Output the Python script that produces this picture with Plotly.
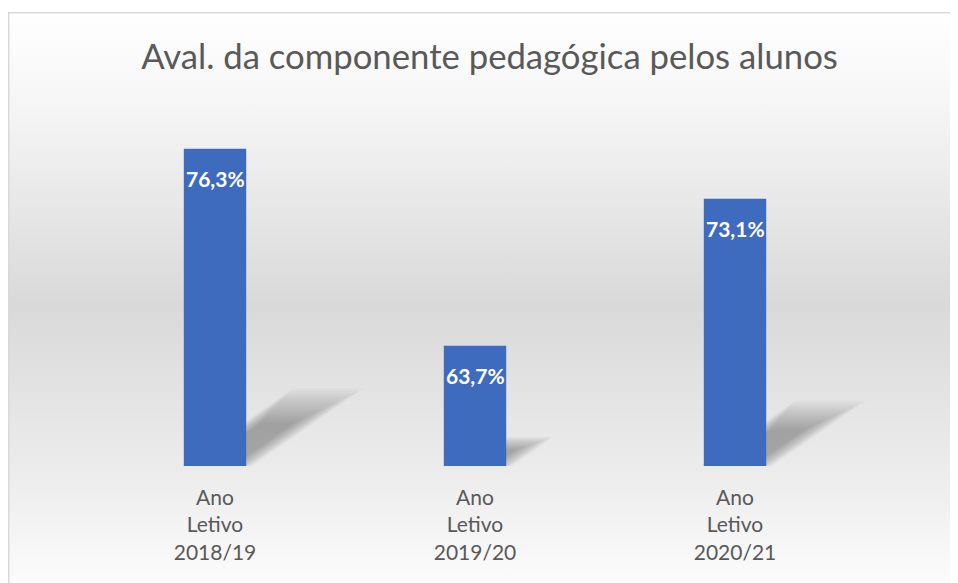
import base64
import plotly.graph_objects as go

# ---- data ----
categories = ["Ano<br>Letivo<br>2018/19", "Ano<br>Letivo<br>2019/20", "Ano<br>Letivo<br>2020/21"]
values = [76.3, 63.7, 73.1]
labels = ["76,3%", "63,7%", "73,1%"]
title_text = "Aval. da componente pedagógica pelos alunos"

# page body has an 8px margin; the figure fills the rest of the window
W, H = 950, 575
ML, MR, MT, MB = 77, 93, 83, 117
Y0, Y1 = 56, 80
PW = W - ML - MR
PH = H - MT - MB

FONT = "Lato"
GREY = "#595959"
BAR = "#3E6BBE"

# background: chart area gradient + border (decoration)
svg = f'''<svg xmlns="http://www.w3.org/2000/svg" width="{W}" height="{H}" viewBox="0 0 {W} {H}">
<defs><linearGradient id="g" x1="0" y1="0" x2="0" y2="1">
<stop offset="0" stop-color="#ffffff"/>
<stop offset="0.15" stop-color="#f6f6f6"/>
<stop offset="0.49" stop-color="#d9d9d9"/>
<stop offset="0.80" stop-color="#eeeeee"/>
<stop offset="1" stop-color="#ffffff"/>
</linearGradient></defs>
<rect x="0" y="0" width="{W}" height="{H}" fill="#ffffff"/>
<rect x="0.75" y="4.75" width="{W+20}" height="{H+20}" fill="url(#g)" stroke="#d9d9d9" stroke-width="1.5"/>
</svg>'''
src = "data:image/svg+xml;base64," + base64.b64encode(svg.encode()).decode()

fig = go.Figure()
fig.add_trace(go.Bar(
    x=list(range(len(values))), y=values,
    marker=dict(color=BAR, line=dict(width=0)),
    hoverinfo="skip",
))

# soft perspective shadows, derived from the bar values (data coordinates)
half = 0.12
N = 16
shapes = []
for i, v in enumerate(values):
    h = v - Y0
    dx = 0.0207 * h
    dy = 0.24 * h
    xl = i - half
    bw = 2 * half

    def P(u, w):
        return f"{xl + w * bw + u * dx},{Y0 + u * dy}"

    for j in range(N):
        t = j / (N - 1)
        u1 = 1.02 - 0.45 * t
        w0 = -0.04 + 0.28 * t
        w1 = 1.1 - 0.32 * t
        path = f"M {P(0, w0)} L {P(0, w1)} L {P(u1, w1)} L {P(u1, w0)} Z"
        shapes.append(dict(type="path", path=path, xref="x", yref="y",
                           fillcolor="rgba(0,0,0,0.02)", line=dict(width=0),
                           layer="below"))

annotations = []
for i, (v, t) in enumerate(zip(values, labels)):
    annotations.append(dict(x=i, y=v, xref="x", yref="y", text=f"<b>{t}</b>",
                            showarrow=False, yanchor="middle", yshift=-30,
                            font=dict(family=FONT, size=21, color="white")))

fig.update_layout(
    width=W, height=H,
    margin=dict(l=ML, r=MR, t=MT, b=MB, pad=0),
    paper_bgcolor="white", plot_bgcolor="rgba(0,0,0,0)",
    showlegend=False,
    bargap=0.76,
    title=dict(text=title_text, x=481.5 / W, xanchor="center",
               y=1 - 49 / H, yanchor="middle", yref="container",
               font=dict(family=FONT, size=34.7, color=GREY)),
    xaxis=dict(tickmode="array", tickvals=list(range(len(values))), ticktext=categories,
               range=[-0.5, len(values) - 0.5], showgrid=False, zeroline=False,
               showline=False, ticks="", ticklabelstandoff=17,
               tickfont=dict(family=FONT, size=21, color=GREY)),
    yaxis=dict(range=[Y0, Y1], visible=False),
    shapes=shapes,
    annotations=annotations,
    images=[dict(source=src, xref="paper", yref="paper", x=-ML / PW, y=1 + MT / PH,
                 sizex=W / PW, sizey=H / PH, xanchor="left", yanchor="top",
                 sizing="stretch", layer="below")],
)

fig.write_html("out.html")
